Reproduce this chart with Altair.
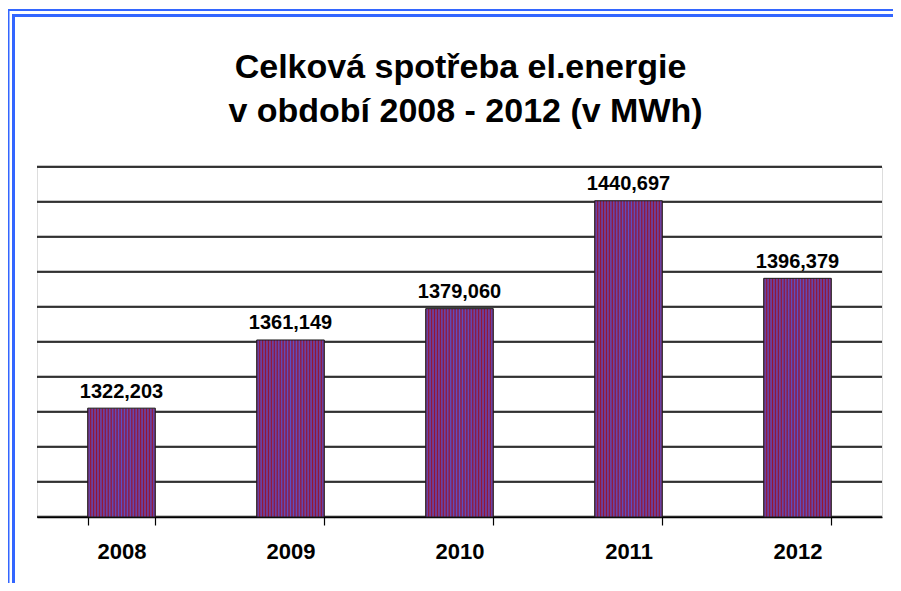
import altair as alt
import pandas as pd

years = ["2008", "2009", "2010", "2011", "2012"]
values = [1322.203, 1361.149, 1379.060, 1440.697, 1396.379]
labels = ["1322,203", "1361,149", "1379,060", "1440,697", "1396,379"]
y_ticks = list(range(1260, 1461, 20))
Y_MIN, Y_MAX = 1260, 1460
title_lines = ["Celková spotřeba el.energie", "v období 2008 - 2012 (v MWh)"]

df = pd.DataFrame({"year": years, "value": values, "label": labels})
grid_df = pd.DataFrame({"v": y_ticks})

RED = "#951530"
BLUE = "#5A50C8"
n_periods = 23
stops = []
for i in range(n_periods):
    stops += [alt.GradientStop(offset=i / n_periods, color=RED),
              alt.GradientStop(offset=(i + 0.5) / n_periods, color=BLUE)]
stops.append(alt.GradientStop(offset=1, color=RED))
hatch = alt.Gradient(gradient="linear", stops=stops, x1=0, x2=1, y1=0, y2=0)

FONT = "Liberation Sans"
W, H = 845, 350
PL, PT = 29, 159

x_enc = alt.X("year:N", sort=years, title=None,
              scale=alt.Scale(paddingInner=0.6, paddingOuter=0.3),
              axis=alt.Axis(labelAngle=0, labelFont=FONT, labelFontSize=22, labelFontWeight="bold",
                            labelColor="black", labelPadding=16, tickSize=8, tickColor="black",
                            tickWidth=1.2, tickBand="extent", domainColor="black", domainWidth=1.5,
                            grid=False))
y_scale = alt.Scale(domain=[Y_MIN, Y_MAX], zero=False, nice=False)

grid_shadow = alt.Chart(grid_df).mark_rule(color="#8a8a8a", strokeWidth=1, yOffset=-1).encode(
    y=alt.Y("v:Q", scale=y_scale, axis=None), x=alt.value(0), x2=alt.value(W))
grid_line = alt.Chart(grid_df).mark_rule(color="black", strokeWidth=1.3).encode(
    y=alt.Y("v:Q", scale=y_scale, axis=None), x=alt.value(0), x2=alt.value(W))

bars = alt.Chart(df).mark_bar(color=hatch, stroke="#1a1a1a", strokeWidth=1).encode(
    x=x_enc,
    y=alt.Y("value:Q", scale=y_scale, title=None, axis=None),
    y2=alt.datum(Y_MIN),
)

text = alt.Chart(df).mark_text(font=FONT, fontSize=20, fontWeight="bold", color="black",
                               baseline="alphabetic", dy=-10.5).encode(
    x=alt.X("year:N", sort=years),
    y=alt.Y("value:Q", scale=y_scale),
    text="label:N",
)

one = pd.DataFrame({"k": [0]})
title1 = alt.Chart(one).mark_text(font=FONT, fontSize=34, fontWeight="bold", color="black",
                                  align="center", baseline="alphabetic").encode(
    x=alt.value(W / 2 + 1), y=alt.value(-89), text=alt.value(title_lines[0]))
title2 = alt.Chart(one).mark_text(font=FONT, fontSize=34, fontWeight="bold", color="black",
                                  align="center", baseline="alphabetic").encode(
    x=alt.value(W / 2 + 6), y=alt.value(-45), text=alt.value(title_lines[1]))

FB = "#3366FF"
fr = alt.Chart(one)
left_outer = fr.mark_rule(color=FB, strokeWidth=2).encode(x=alt.value(-28.5), y=alt.value(-158), y2=alt.value(430))
top_outer = fr.mark_rule(color=FB, strokeWidth=2).encode(y=alt.value(-157), x=alt.value(-29.5), x2=alt.value(880))
left_inner = fr.mark_rule(color=FB, strokeWidth=3).encode(x=alt.value(-23.5), y=alt.value(-153), y2=alt.value(430))
top_inner = fr.mark_rule(color=FB, strokeWidth=3).encode(y=alt.value(-151.5), x=alt.value(-25), x2=alt.value(880))

chart = alt.layer(grid_shadow, grid_line, bars, text, title1, title2,
                  left_outer, top_outer, left_inner, top_inner).properties(
    width=W, height=H,
    autosize=alt.AutoSizeParams(type="none"),
    padding={"left": PL, "top": PT, "right": 11, "bottom": 66},
).configure_view(stroke=None).configure(background="white")

chart.save("out.html", embed_options={"renderer": "svg", "actions": False})
